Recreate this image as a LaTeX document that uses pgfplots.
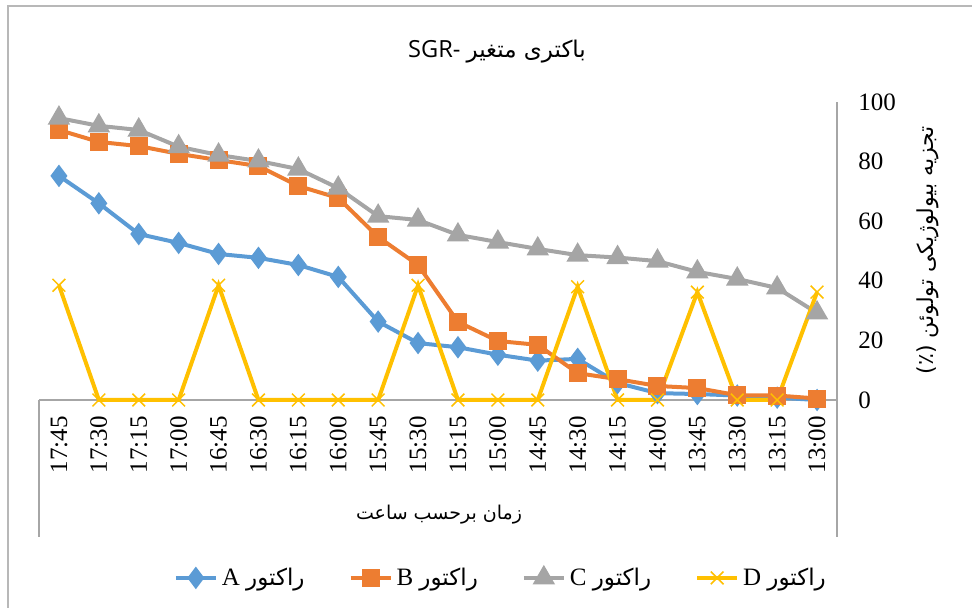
\documentclass[border=0pt]{standalone}
\usepackage{fontspec}
\setmainfont{Liberation Serif}
\newfontfamily\arabicfont[Script=Arabic]{DejaVu Sans}
\newfontfamily\titlefont{Open Sans}
\usepackage{pgfplots}
\pgfplotsset{compat=1.18}
\TeXXeTstate=1
\definecolor{cA}{HTML}{5B9BD5}
\definecolor{cB}{HTML}{ED7D31}
\definecolor{cC}{HTML}{A5A5A5}
\definecolor{cD}{HTML}{FFC000}
\definecolor{axgray}{HTML}{A6A6A6}
\begin{document}
\begin{tikzpicture}
\path[use as bounding box] (0,0) rectangle (486pt,304pt);
\draw[axgray!80, line width=0.75pt] (4pt,0pt) -- (4pt,301pt) -- (486pt,301pt);
\begin{axis}[
  at={(19.5pt,104pt)}, anchor=south west,
  scale only axis, width=399pt, height=149pt,
  xmin=-0.5, xmax=19.5, ymin=0, ymax=100,
  axis x line=bottom, axis y line=right,
  axis line style={-, draw=axgray, line width=0.75pt},
  xtick={0,...,19},
  xticklabels={17:45,17:30,17:15,17:00,16:45,16:30,16:15,16:00,15:45,15:30,15:15,15:00,14:45,14:30,14:15,14:00,13:45,13:30,13:15,13:00},
  ytick={0,20,40,60,80,100},
  major tick length=0pt,
  tick label style={font=\fontsize{12.5}{14}\selectfont},
  /pgf/number format/assume math mode=true,
  xticklabel style={rotate=90, anchor=east, inner sep=0pt},
  xticklabel shift=8pt,
  yticklabel style={anchor=west, inner sep=0pt},
  yticklabel shift=10.5pt,
  clip=false,
  every axis plot/.append style={line width=2pt},
  legend style={at={(0.58,-0.597)}, anchor=center, draw=none, legend columns=4,
    font=\fontsize{12.5}{14}\selectfont,
    /tikz/every even column/.append style={column sep=20pt}},
  legend image code/.code={\draw[mark repeat=2, mark phase=2, #1] plot coordinates {(0pt,0pt) (10pt,0pt) (20pt,0pt)};},
]
\addplot[color=cA, mark=diamond*, mark size=4pt, mark options={solid, fill=cA, draw=cA}] coordinates {
(0,75.2) (1,66) (2,55.7) (3,52.7) (4,49) (5,47.7) (6,45.3) (7,41.3) (8,26.3) (9,19.1)
(10,17.7) (11,15.2) (12,13.2) (13,13.8) (14,5.7) (15,2.3) (16,2) (17,1.5) (18,0.8) (19,0)};
\addlegendentry{A {\arabicfont\fontsize{11.5}{13}\selectfont\beginR راکتور\endR}}
\addplot[color=cB, mark=square*, mark size=3.5pt, mark options={solid, fill=cB, draw=cB}] coordinates {
(0,90.6) (1,86.6) (2,85.2) (3,82.6) (4,80.5) (5,78.5) (6,71.8) (7,67.8) (8,54.7) (9,45.3)
(10,26.2) (11,19.8) (12,18.5) (13,9) (14,7) (15,4.7) (16,4) (17,1.6) (18,1.5) (19,0.5)};
\addlegendentry{B {\arabicfont\fontsize{11.5}{13}\selectfont\beginR راکتور\endR}}
\addplot[color=cC, mark=triangle*, mark size=4.5pt, mark options={solid, fill=cC, draw=cC}] coordinates {
(0,94.6) (1,92) (2,90.6) (3,85) (4,82.2) (5,80.2) (6,77.5) (7,71.1) (8,61.7) (9,60.4)
(10,55.4) (11,53) (12,50.7) (13,48.6) (14,47.8) (15,46.6) (16,43) (17,40.6) (18,37.6) (19,29.2)};
\addlegendentry{C {\arabicfont\fontsize{11.5}{13}\selectfont\beginR راکتور\endR}}
\addplot[color=cD, mark=x, mark size=4.5pt, mark options={solid, line width=0.75pt}] coordinates {
(0,38.5) (1,0) (2,0) (3,0) (4,38.5) (5,0) (6,0) (7,0) (8,0) (9,38.5)
(10,0) (11,0) (12,0) (13,38) (14,0) (15,0) (16,36.2) (17,0) (18,0) (19,36.2)};
\addlegendentry{D {\arabicfont\fontsize{11.5}{13}\selectfont\beginR راکتور\endR}}
\end{axis}
\draw[axgray, line width=0.75pt] (19.5pt,104pt) -- (19.5pt,35.5pt);
\draw[axgray, line width=0.75pt] (418.5pt,104pt) -- (418.5pt,35.5pt);
\node at (248.5pt,278pt) {\titlefont\fontsize{11.8}{13}\selectfont SGR- {\arabicfont\fontsize{11.5}{13}\selectfont\beginR باکتری متغیر\endR}};
\node at (219.5pt,46.5pt) {\arabicfont\fontsize{9.5}{12}\selectfont\beginR زمان برحسب ساعت\endR};
\node[rotate=90] at (464pt,179pt) {\arabicfont\fontsize{11}{13}\selectfont\beginR تجزیه بیولوژیکی تولوئن (٪)\endR};
\end{tikzpicture}
\end{document}
